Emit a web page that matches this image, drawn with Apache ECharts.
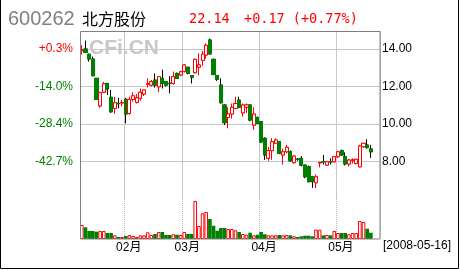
<!DOCTYPE html>
<html>
<head>
<meta charset="utf-8">
<script src="https://cdn.jsdelivr.net/npm/echarts@6/dist/echarts.min.js"></script>
<style>
  html, body { margin: 0; padding: 0; background: #fff; }
  #chart { width: 460px; height: 270px; }
</style>
</head>
<body>
<div id="chart"></div>
<script>
// 日期 (2008)
var dates = [
    '01-16','01-17','01-18','01-21','01-22','01-23','01-24','01-25','01-28','01-29','01-30','01-31',
    '02-01','02-04','02-05','02-13','02-14','02-15','02-18','02-19','02-20','02-21','02-22','02-25','02-26','02-27','02-28','02-29',
    '03-03','03-04','03-05','03-06','03-07','03-10','03-11','03-12','03-13','03-14','03-17','03-18','03-19','03-20','03-21','03-24','03-25','03-26','03-27','03-28','03-31',
    '04-01','04-02','04-03','04-07','04-08','04-09','04-10','04-11','04-14','04-15','04-16','04-17','04-18','04-21','04-22','04-23','04-24','04-25','04-28','04-29','04-30',
    '05-05','05-06','05-07','05-08','05-09','05-12','05-13','05-14','05-15','05-16',
    '', ''
];

var opens = [13.93,14.00,13.72,13.47,12.44,10.97,11.70,12.17,11.43,10.84,11.11,11.13,11.32,10.57,11.32,11.16,11.38,11.60,12.13,12.08,
    12.35,11.99,12.44,12.26,12.18,12.17,12.70,12.62,12.80,13.03,12.59,12.74,13.03,13.40,13.68,14.48,13.45,12.58,12.08,11.02,
    10.36,10.54,10.84,11.28,10.60,10.90,11.02,9.95,10.36,10.13,9.25,8.18,8.59,8.98,9.07,8.36,8.53,8.53,7.95,8.14,
    8.18,7.82,7.73,7.20,6.88,7.94,8.01,7.82,8.01,8.00,8.27,8.59,8.27,7.88,8.08,7.91,7.73,8.80,8.89,8.68];
var closes = [13.97,13.83,13.47,12.58,11.32,11.68,12.14,11.87,10.66,11.14,11.09,11.15,10.54,11.32,11.51,11.40,11.70,11.82,12.15,12.26,
    12.08,12.53,12.17,12.08,12.16,12.53,12.44,12.79,13.15,12.70,12.50,13.45,13.15,13.73,14.20,13.74,12.65,12.39,11.14,10.08,
    10.54,10.90,11.10,10.90,11.02,11.02,10.22,10.54,10.04,9.06,8.36,8.59,9.07,9.16,8.45,8.53,8.77,8.05,8.30,8.12,
    7.82,7.20,6.94,6.94,7.20,7.96,7.99,8.00,7.99,8.27,8.53,8.36,7.88,8.09,8.10,8.13,8.84,8.98,8.75,8.53];
var lows = [13.70,13.80,13.33,12.55,11.30,10.88,11.65,11.55,10.60,10.55,10.85,10.95,10.04,10.50,11.20,11.10,11.25,11.50,11.95,12.00,
    11.95,11.70,11.90,12.00,11.64,12.10,12.40,12.55,12.75,12.65,12.17,12.70,12.60,13.10,13.50,13.70,12.60,12.30,11.10,9.95,
    9.78,10.30,10.80,10.85,10.40,10.60,10.15,9.70,10.00,9.00,8.10,8.05,8.10,8.95,8.40,7.85,8.45,8.00,7.90,8.05,
    7.75,7.12,6.90,6.61,6.60,7.70,7.85,7.80,7.85,7.95,8.20,8.30,7.80,7.75,7.90,7.85,7.70,8.75,8.70,8.20];
var highs = [14.20,14.45,13.75,13.60,12.45,11.73,12.25,12.17,11.82,11.45,11.40,11.30,11.40,11.46,11.70,11.60,11.90,11.82,12.44,12.35,
    12.70,12.55,12.90,12.30,12.55,12.80,12.75,12.85,13.20,13.05,12.62,13.50,13.77,13.90,14.30,14.56,13.50,12.60,12.44,11.05,
    10.90,11.10,11.46,11.46,11.10,11.10,11.05,10.90,10.40,10.15,9.30,8.80,9.25,9.25,9.10,8.70,8.90,8.60,8.35,8.20,
    8.30,7.85,7.80,7.25,7.33,8.00,8.36,8.05,8.18,8.30,8.55,8.65,8.50,8.15,8.18,8.15,8.90,9.00,9.20,8.90];
// 成交量
var volumes = [140,117,80,80,73,80,80,60,60,37,20,20,30,40,30,20,37,37,67,40,
    50,70,70,40,40,47,43,40,70,50,50,380,130,257,270,200,133,83,110,110,
    100,100,87,70,50,43,63,37,43,70,47,37,37,37,40,37,40,37,27,20,
    27,33,33,27,93,93,37,40,37,80,60,60,60,47,60,60,180,170,103,63];

var priceTicks = [8, 10, 12, 14];
var pctLabels = ['-42.7%', '-28.4%', '-14.0%', '+0.3%'];

var UP = '#ff0000', DOWN = '#008000';
var FONT = '"Liberation Sans", "Noto Sans CJK SC", sans-serif';

var kData = [], bodyData = [], volData = [];
for (var i = 0; i < opens.length; i++) {
    kData.push([opens[i], closes[i], lows[i], highs[i]]);
    bodyData.push([opens[i], closes[i], Math.min(opens[i], closes[i]), Math.max(opens[i], closes[i])]);
    var up = closes[i] >= opens[i];
    volData.push({
        value: volumes[i],
        itemStyle: up ? { color: '#fff', borderColor: UP, borderWidth: 1 } : { color: DOWN, borderWidth: 0 }
    });
}

function isMonthStart(index) {
    if (index === 0 || !dates[index]) return false;
    return dates[index].slice(0, 2) !== dates[index - 1].slice(0, 2);
}

var myChart = echarts.init(document.getElementById('chart'));

var option = {
    animation: false,
    backgroundColor: '#fff',
    grid: [
        { left: 80, right: 80, top: 31, height: 168.3 },
        { left: 80, right: 80, top: 199, height: 40 }
    ],
    xAxis: [
        {
            type: 'category', gridIndex: 0, data: dates, boundaryGap: true,
            axisLine: { show: false }, axisTick: { show: false }, axisLabel: { show: false },
            splitLine: { show: true, interval: isMonthStart, lineStyle: { color: '#c8c8c8', width: 1 } }
        },
        {
            type: 'category', gridIndex: 1, data: dates, boundaryGap: true,
            axisLine: { show: false }, axisTick: { show: false },
            axisLabel: {
                interval: isMonthStart,
                formatter: function (value) { return value.slice(0, 2) + '月'; },
                color: '#000', fontSize: 12, fontFamily: FONT, margin: 3, padding: [0, 0, 0, 6]
            },
            splitLine: { show: true, interval: isMonthStart, lineStyle: { color: '#bcb4c4', type: 'dotted', width: 1 } }
        }
    ],
    yAxis: [
        {
            // 价格 (右)
            type: 'value', gridIndex: 0, position: 'right', min: 6, max: 14.96, interval: 2,
            axisLine: { show: false }, axisTick: { show: false },
            axisLabel: {
                margin: 2, color: '#000', fontSize: 12, fontFamily: FONT,
                formatter: function (v) { return priceTicks.indexOf(v) < 0 ? '' : v.toFixed(2); }
            },
            splitLine: { show: true, showMinLine: false, showMaxLine: false, lineStyle: { color: '#c8c8c8', width: 1 } }
        },
        {
            // 涨跌幅 (左)
            type: 'value', gridIndex: 0, position: 'left', min: 6, max: 14.96, interval: 2,
            axisLine: { show: false }, axisTick: { show: false }, splitLine: { show: false },
            axisLabel: {
                margin: 7, fontSize: 12, fontFamily: FONT,
                formatter: function (v) {
                    var k = priceTicks.indexOf(v);
                    if (k < 0) return '';
                    var s = pctLabels[k];
                    return '{' + (s.charAt(0) === '+' ? 'up' : 'dn') + '|' + s + '}';
                },
                rich: {
                    up: { color: UP, fontSize: 12, fontFamily: FONT },
                    dn: { color: DOWN, fontSize: 12, fontFamily: FONT }
                }
            }
        },
        {
            type: 'value', gridIndex: 1, min: 0, max: 400,
            axisLine: { show: false }, axisTick: { show: false }, axisLabel: { show: false }, splitLine: { show: false }
        }
    ],
    series: [
        {
            name: 'K', type: 'candlestick', xAxisIndex: 0, yAxisIndex: 0, data: kData, barWidth: 3.6,
            itemStyle: { color: '#fff', borderColor: UP, color0: DOWN, borderColor0: '#000', borderWidth: 1 }
        },
        {
            // 阴线实体盖住黑色边框
            name: 'body', type: 'candlestick', xAxisIndex: 0, yAxisIndex: 0, data: bodyData, barWidth: 3.6,
            itemStyle: { color: '#fff', borderColor: UP, color0: DOWN, borderColor0: DOWN, borderWidth: 1 }
        },
        {
            name: 'vol', type: 'bar', xAxisIndex: 1, yAxisIndex: 2, data: volData, barWidth: 3.6
        }
    ],
    graphic: [
        { type: 'text', x: 89, y: 48, z: 0, style: { text: 'CFi.CN', fill: '#c8c8c8', font: 'bold 21px "Liberation Sans"', verticalAlign: 'middle' } },
        { type: 'rect', z: 50, silent: true, shape: { x: 80.5, y: 31.5, width: 299.5, height: 207.5 }, style: { fill: 'none', stroke: '#808080', lineWidth: 1 } },
        { type: 'polyline', z: 50, silent: true, shape: { points: [[0.5, 0], [0.5, 268.5], [458.5, 268.5], [458.5, 0]] }, style: { fill: 'none', stroke: '#000', lineWidth: 1 } },
        { type: 'text', x: 8, y: 19, style: { text: '600262', fill: '#808080', font: '20px "Liberation Sans"', verticalAlign: 'middle' } },
        { type: 'text', x: 82, y: 19, style: { text: '北方股份', fill: '#000', font: '16px "Noto Sans CJK SC"', verticalAlign: 'middle' } },
        { type: 'text', x: 189, y: 19, style: { text: '22.14', fill: UP, font: '13.5px "DejaVu Sans Mono"', verticalAlign: 'middle' } },
        { type: 'text', x: 244, y: 19, style: { text: '+0.17 (+0.77%)', fill: UP, font: '13.5px "DejaVu Sans Mono"', verticalAlign: 'middle' } },
        { type: 'text', x: 383, y: 246, style: { text: '[2008-05-16]', fill: '#000', font: '12px "Liberation Sans"', verticalAlign: 'middle' } }
    ]
};

myChart.setOption(option);
window.onresize = myChart.resize;
</script>
</body>
</html>
